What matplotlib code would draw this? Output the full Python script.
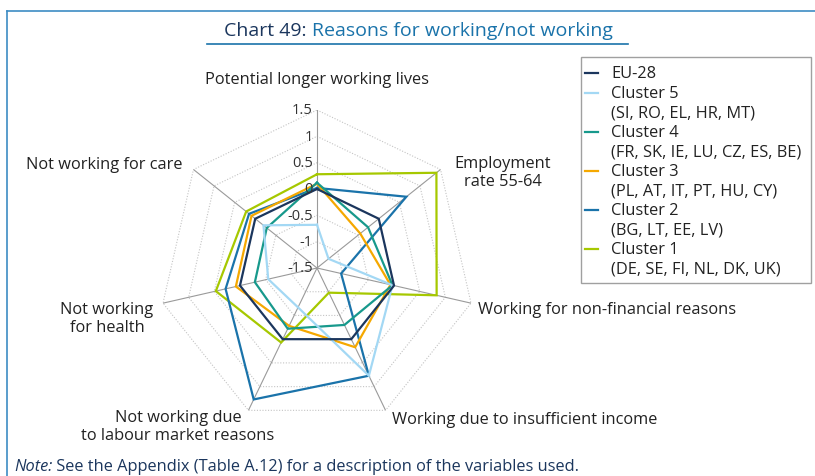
import numpy as np
import matplotlib.pyplot as plt
from matplotlib.lines import Line2D
from matplotlib.patches import Rectangle

plt.rcParams['font.family'] = ['Open Sans', 'DejaVu Sans']

# axes of the radar, clockwise from the top
categories = ['Potential longer working lives', 'Employment\nrate 55-64',
              'Working for non-financial reasons', 'Working due to insufficient income',
              'Not working due\nto labour market reasons', 'Not working\nfor health',
              'Not working for care']

eu28 = [0.00, 0.00, 0.00, 0.00, 0.00, 0.00, 0.00]
cluster5 = [-0.68, -1.22, -0.03, 0.77, -0.67, -0.55, -0.20]
cluster4 = [0.12, -0.26, -0.03, -0.30, -0.22, -0.29, -0.28]
cluster3 = [0.10, -0.45, -0.07, 0.17, -0.28, 0.08, 0.09]
cluster2 = [0.02, 0.67, -1.03, 0.77, 1.27, 0.28, 0.15]
cluster1 = [0.28, 1.40, 0.83, -0.98, 0.07, 0.47, 0.22]

series_names = ['EU-28', 'Cluster 5', 'Cluster 4', 'Cluster 3', 'Cluster 2', 'Cluster 1']
series_members = ['', '(SI, RO, EL, HR, MT)', '(FR, SK, IE, LU, CZ, ES, BE)',
                  '(PL, AT, IT, PT, HU, CY)', '(BG, LT, EE, LV)', '(DE, SE, FI, NL, DK, UK)']
series_values = [eu28, cluster5, cluster4, cluster3, cluster2, cluster1]
colors = ['#1b365d', '#a3d8f4', '#17998c', '#f5a800', '#1a73aa', '#a6c800']

ticks = [-1.5, -1, -0.5, 0, 0.5, 1, 1.5]
tick_labels = ['-1.5', '-1', '-0.5', '0', '0.5', '1', '1.5']

W, H = 815, 477
fig = plt.figure(figsize=(W / 100, H / 100), dpi=100)

def fx(px):
    return px / W

def fy(py):
    return 1 - py / H

# frame and title
fig.add_artist(Line2D([fx(7), fx(7)], [fy(12), 0], color='#3d8cc4', lw=1.2))
fig.add_artist(Line2D([fx(7), 1], [fy(12), fy(12)], color='#3d8cc4', lw=1.2))
fig.add_artist(Line2D([fx(207), fx(628)], [fy(45), fy(45)], color='#1a73aa', lw=1.2))

t1 = fig.text(fx(224), fy(31), 'Chart 49: ', color='#1b365d', fontsize=14, va='center')
fig.canvas.draw()
bb = t1.get_window_extent()
fig.text(bb.x1 / W, fy(31), 'Reasons for working/not working', color='#1a73aa',
         fontsize=14, va='center')

# radar
ax = fig.add_axes([fx(317 - 158), fy(269 + 158), fx(316), 316 / H], polar=True)
ax.set_theta_zero_location('N')
ax.set_theta_direction(-1)
ax.set_ylim(-1.5, 1.5)
ax.set_xticks([])
ax.set_yticks([])
ax.grid(False)
ax.spines['polar'].set_visible(False)
ax.patch.set_visible(False)

n = len(categories)
angles = np.arange(n) * 2 * np.pi / n
closed = np.append(angles, angles[0])

for lvl in ticks[1:]:
    ax.plot(closed, [lvl] * (n + 1), color='#c4c4c4', lw=0.8, ls=(0, (1, 1.5)))
for a in angles:
    ax.plot([a, a], [-1.5, 1.5], color='#9a9a9a', lw=0.8)

for v, lab in zip(ticks, tick_labels):
    ax.annotate(lab, (0, v), xytext=(-3, 0), textcoords='offset points',
                ha='right', va='center', fontsize=10.5, color='#333333')

for vals, c in zip(series_values[::-1], colors[::-1]):
    ax.plot(closed, vals + vals[:1], color=c, lw=1.6, solid_joinstyle='miter')

# category labels
label_pos = [(317, 80, 'center'), (503, 173, 'center'), (478, 310, 'left'),
             (392, 420, 'left'), (178, 427, 'center'), (107, 319, 'center'),
             (183, 165, 'right')]
for lab, (x, y, ha) in zip(categories, label_pos):
    fig.text(fx(x), fy(y), lab, ha=ha, va='center', multialignment=ha,
             fontsize=11.8, color='#222222', linespacing=1.1)

# legend
fig.add_artist(Rectangle((fx(581), fy(284)), fx(230), (284 - 58) / H, fill=False,
                         edgecolor='#a0a0a0', lw=1.0, transform=fig.transFigure))
y = 74
for name, members, c in zip(series_names, series_members, colors):
    fig.add_artist(Line2D([fx(585), fx(598)], [fy(y), fy(y)], color=c, lw=1.6))
    fig.text(fx(611), fy(y), name, ha='left', va='center', fontsize=11.8, color='#222222')
    y += 19.6
    if members:
        fig.text(fx(611), fy(y), members, ha='left', va='center', fontsize=11.8,
                 color='#222222')
        y += 19.6

# note
t3 = fig.text(fx(14), fy(467), 'Note:', style='italic', color='#1b365d', fontsize=11.8,
              va='center')
fig.canvas.draw()
bb = t3.get_window_extent()
fig.text(bb.x1 / W, fy(467), ' See the Appendix (Table A.12) for a description of the variables used.',
         color='#1b365d', fontsize=11.8, va='center')

fig.savefig('out.png', dpi=100)
